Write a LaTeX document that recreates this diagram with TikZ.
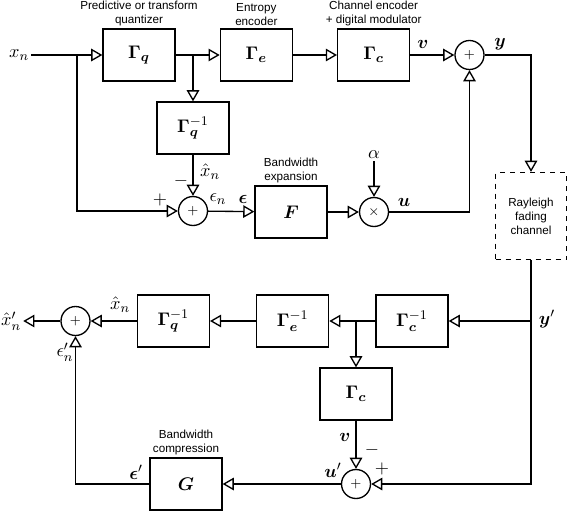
\documentclass[tikz,border=0pt]{standalone}
\usepackage{fontspec}
\setsansfont{Liberation Sans}
\usepackage{amsmath}
\usetikzlibrary{chains,positioning,arrows}

\begin{document}
\begin{tikzpicture}[
    x=0.6pt, y=-0.6pt, thick, >=open triangle 60,
    every node/.style={font=\fontsize{11}{13}\selectfont},
    blk/.style={draw, minimum width=43.2pt, minimum height=31.2pt, inner sep=0pt},
    sum/.style={draw, circle, minimum size=17.4pt, inner sep=0pt, font=\footnotesize},
    txt/.style={font=\sffamily\fontsize{7}{8.4}\selectfont, align=center, inner sep=1pt},
    lbl/.style={inner sep=1pt}
]
\useasboundingbox (0,0) rectangle (568,511);

% transmitter, top row
\begin{scope}[start chain=top, node distance=26.4pt]
    \node[on chain, blk, label={[txt]above:Predictive or transform\\quantizer}] (q) at (139,55) {$\boldsymbol{\Gamma}_{\boldsymbol{q}}$};
    \node[on chain, blk, join=by ->, label={[txt]above:Entropy\\encoder}] (e) {$\boldsymbol{\Gamma}_{\boldsymbol{e}}$};
    \node[on chain, blk, join=by ->, label={[txt]above:Channel encoder\\+ digital modulator}] (c) {$\boldsymbol{\Gamma}_{\boldsymbol{c}}$};
    \node[on chain, sum, join=by ->] (s1) {$+$};
\end{scope}

\node[lbl] (xin) at (19,55) {$x_n$};
\node[blk] (qi) at (193,128) {$\boldsymbol{\Gamma}_{\boldsymbol{q}}^{-1}$};
\node[sum] (s0) at (193,211) {$+$};
\node[blk, label={[txt]above:Bandwidth\\expansion}] (F) at (291,212) {$\boldsymbol{F}$};
\node[sum] (m) at (374,212) {$\times$};
\node[lbl] (alpha) at (374,155) {$\alpha$};
\node[blk, dashed, txt, minimum width=42.6pt, minimum height=52.2pt] (ray) at (531,216) {Rayleigh\\fading\\channel};

% receiver, bottom row
\begin{scope}[start chain=bot going left, node distance=27.6pt]
    \node[on chain, blk] (ci) at (412,321) {$\boldsymbol{\Gamma}_{\boldsymbol{c}}^{-1}$};
    \node[on chain, blk, join=by ->] (ei) {$\boldsymbol{\Gamma}_{\boldsymbol{e}}^{-1}$};
    \node[on chain, blk, join=by ->] (qb) {$\boldsymbol{\Gamma}_{\boldsymbol{q}}^{-1}$};
    \node[on chain, sum, join=by ->] (s3) {$+$};
\end{scope}

\node[lbl] (xout) at (11,321) {$\hat{x}'_n$};
\node[blk] (cc) at (356,394) {$\boldsymbol{\Gamma}_{\boldsymbol{c}}$};
\node[sum] (s2) at (356,484) {$+$};
\node[blk, label={[txt]above:Bandwidth\\compression}] (G) at (186,484) {$\boldsymbol{G}$};

% signal labels
\node[lbl] (lxh) at (210,172) {$\hat{x}_n$};
\node[lbl] (mi0) at (181,181) {$-$};
\node[lbl] (pl0) at (160,200) {$+$};
\node[lbl] (lepsn) at (218,199) {$\epsilon_n$};
\node[lbl] (leps) at (243,199) {$\boldsymbol{\epsilon}$};
\node[lbl] (lv) at (423,44) {$\boldsymbol{v}$};
\node[lbl] (ly) at (500,44) {$\boldsymbol{y}$};
\node[lbl] (lu) at (404,202) {$\boldsymbol{u}$};
\node[lbl] (lyp) at (547,319) {$\boldsymbol{y}'$};
\node[lbl] (lvb) at (345,437) {$\boldsymbol{v}$};
\node[lbl] (mi2) at (372,450) {$-$};
\node[lbl] (pl2) at (382,469) {$+$};
\node[lbl] (lup) at (333,470) {$\boldsymbol{u}'$};
\node[lbl] (lepsp) at (136,472) {$\boldsymbol{\epsilon}'$};
\node[lbl] (lepsnp) at (65,352) {$\epsilon'_n$};
\node[lbl] (lxhb) at (120,305) {$\hat{x}_n$};

% connectors
\coordinate (b1) at (77,55);
\draw[->] (xin) -- (q);
\draw[->] (b1) |- (s0);
\draw[->] (qi |- q) -- (qi);
\draw[->] (qi) -- (s0);
\draw[->] (s0) -- (F);
\draw[->] (F) -- (m);
\draw[->] (alpha) -- (m);
\draw[->] (m) -| (s1);
\draw[->] (s1) -| (ray);
\draw[->] (ray) |- (s2);
\draw[->] (ray |- ci) -- (ci);
\draw[->] (cc |- ci) -- (cc);
\draw[->] (cc) -- (s2);
\draw[->] (s2) -- (G);
\draw[->] (G) -| (s3);
\draw[->] (s3) -- (xout);

\end{tikzpicture}
\end{document}
